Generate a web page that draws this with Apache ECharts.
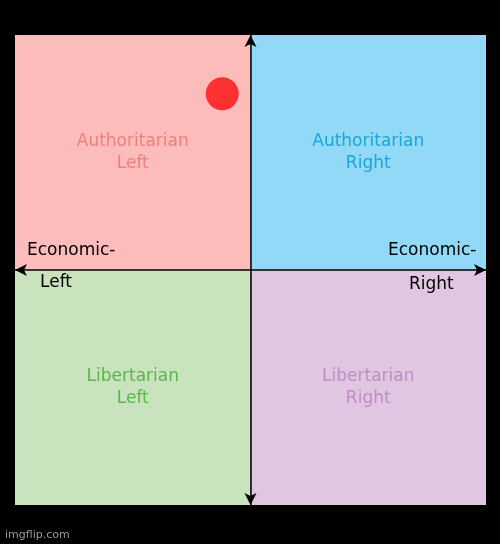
<!DOCTYPE html>
<html>
<head>
<meta charset="utf-8">
<script src="https://cdn.jsdelivr.net/npm/echarts@6/dist/echarts.min.js"></script>
<style>html,body{margin:0;background:#000}#c{width:500px;height:544px}</style>
</head>
<body>
<div id="c"></div>
<script>
// quadrants: [name, x range, y range, fill, text colour]
var quadrantNames = ['Authoritarian\nLeft', 'Authoritarian\nRight', 'Libertarian\nLeft', 'Libertarian\nRight'];
var quadrantX = [[-10, 0], [0, 10], [-10, 0], [0, 10]];
var quadrantY = [[0, 10], [0, 10], [-10, 0], [-10, 0]];
var quadrantFill = ['#fbbcbb', '#92d9f7', '#c9e3bf', '#e0c6e1'];
var quadrantText = ['#ee7f7f', '#1aa6d6', '#58b64a', '#bf8dc6'];
var dotPoint = [[-1.2, 7.5]];

var chart = echarts.init(document.getElementById('c'));
var areas = quadrantNames.map(function (n, i) {
  return [{
    name: n, xAxis: quadrantX[i][0], yAxis: quadrantY[i][1],
    itemStyle: { color: quadrantFill[i], opacity: 1 },
    label: { color: quadrantText[i] }
  }, { xAxis: quadrantX[i][1], yAxis: quadrantY[i][0] }];
});
function axisOf() {
  return {
    type: 'value', min: -10, max: 10, z: 20,
    axisLine: { onZero: true, symbol: ['arrow', 'arrow'], symbolSize: [9, 12], lineStyle: { color: '#000', width: 1.5 } },
    axisTick: { show: false }, axisLabel: { show: false }, splitLine: { show: false }
  };
}
function txt(s, x, y, col, size) {
  return { type: 'text', left: x, top: y, z: 100, style: { text: s, fill: col, font: size + 'px DejaVu Sans' } };
}
chart.setOption({
  backgroundColor: '#000',
  animation: false,
  grid: { left: 15, right: 14, top: 35, bottom: 39 },
  xAxis: axisOf(),
  yAxis: axisOf(),
  series: [{
    type: 'scatter',
    data: dotPoint,
    symbolSize: 33,
    itemStyle: { color: '#ff3030', opacity: 1 },
    z: 5,
    markArea: {
      silent: true,
      label: { show: true, position: 'inside', fontSize: 17, lineHeight: 22, fontFamily: 'DejaVu Sans' },
      data: areas
    }
  }],
  graphic: [
    txt('Economic-', 27, 242, '#000', 17),
    txt('Left', 40, 274, '#000', 17),
    txt('Economic-', 388, 242, '#000', 17),
    txt('Right', 409, 276, '#000', 17),
    txt('imgflip.com', 5, 530, '#9a9a9a', 11)
  ]
});
</script>
</body>
</html>
